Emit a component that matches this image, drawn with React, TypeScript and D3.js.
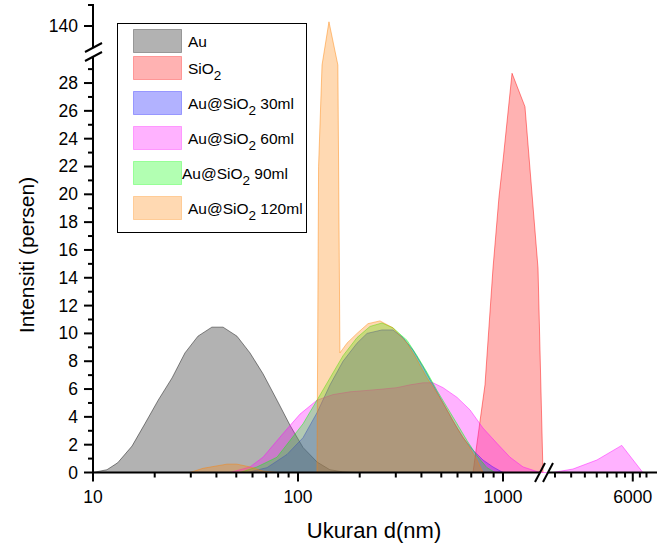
import React from "react";
import * as d3 from "d3";

// Particle size distributions (size in nm, intensity in %)
const au: [number, number][] = [
  [10, 0], [11.7, 0.2], [13.2, 0.7], [15.5, 1.9], [17.9, 3.5], [20.8, 5.2],
  [24.3, 6.8], [28.1, 8.6], [32.5, 9.8], [38, 10.45], [43.1, 10.45], [50.4, 9.8],
  [58.3, 8.6], [67.5, 7.1], [79, 5.2], [91.4, 3.4], [105.8, 1.8], [124, 0.75],
  [143, 0.2], [165, 0.05], [190, 0],
];

const sio2: [number, number][] = [
  [714, 0], [817, 6.3], [894, 14.7], [956, 19.8], [1000, 22.4], [1107, 28.7],
  [1280, 26.3], [1482, 14.7], [1567, 0],
];

const ml30: [number, number][] = [
  [56.4, 0], [70.6, 0.35], [88.4, 1.3], [105.8, 2.5], [123.8, 4.3], [143.3, 6.3],
  [165.9, 8.0], [194.1, 9.3], [217.2, 10.0], [257, 10.25], [290.6, 10.25],
  [325.2, 9.7], [364, 8.8], [407.4, 7.6], [455.9, 6.3], [509.9, 5.0], [570.5, 3.7],
  [638.5, 2.5], [714, 1.6], [798.5, 0.9], [893.4, 0.4], [1000, 0],
];

const ml60: [number, number][] = [
  [46.6, 0], [58.3, 0.4], [67.5, 1.1], [84.5, 2.8], [102.3, 4.2], [123.8, 5.2],
  [148.3, 5.6], [179.5, 5.8], [217.2, 5.9], [260, 6.0], [303.9, 6.1], [351.8, 6.3],
  [407.4, 6.45], [455.9, 6.45], [509.9, 6.1], [597, 5.4], [690.6, 4.5], [798.5, 3.2],
  [934.6, 2.1], [1082, 1.1], [1253, 0.4], [1515, 0], [2440, 0], [3060, 0.25],
  [4010, 0.9], [5300, 1.95], [6720, 0],
];

const ml90: [number, number][] = [
  [52.1, 0], [63.1, 0.4], [79, 1.1], [91.4, 2.3], [105.8, 3.5], [123.8, 5.2],
  [143.3, 6.8], [165.9, 8.4], [194.1, 9.7], [224.5, 10.5], [257, 10.75],
  [290.6, 10.4], [340.4, 9.5], [380.6, 8.4], [425.9, 7.2], [476.6, 5.9], [533, 4.7],
  [597, 3.5], [667.5, 2.3], [746.6, 1.2], [835.2, 0.35], [913.8, 0],
];

const ml120: [number, number][] = [
  [29.7, 0], [34.4, 0.3], [45, 0.6], [50.4, 0.6], [58.3, 0.4], [67.5, 0.1], [79, 0],
  [123.8, 0], [126, 22], [131, 29.3], [141.6, 141], [156.5, 29.3],
  [160.2, 8.6], [173.4, 9.3], [194.1, 10.0], [219.5, 10.7], [251.2, 10.9],
  [290.6, 10.4], [340.4, 9.3], [380.6, 8.1], [425.9, 6.8], [476.6, 5.7], [533, 4.5],
  [597, 3.2], [667.5, 2.1], [746.6, 0.9], [798.5, 0],
];

const seriesData = [au, sio2, ml30, ml60, ml90, ml120];
const seriesColors = ["#000000", "#ff0000", "#0000ff", "#ff00ff", "#00ff00", "#ff8000"];
const legendMain = ["Au", "SiO", "Au@SiO", "Au@SiO", "Au@SiO", "Au@SiO"];
const legendSub = ["", "2", "2", "2", "2", "2"];
const legendTail = ["", "", " 30ml", " 60ml", " 90ml", " 120ml"];

const xMajorLeft = [10, 100, 1000];
const xMajorRight = [6000];
const xMinorRight = [2500, 3000, 3500, 4000, 4500, 5000, 5500, 6500, 7000];
const yMajorLow = [0, 2, 4, 6, 8, 10, 12, 14, 16, 18, 20, 22, 24, 26, 28];
const yMajorHigh = [140];
const yMinorHigh = [145];

const FONT = "'Liberation Sans', Arial, Helvetica, sans-serif";

// Broken log x axis: two segments with a small gap
const X_LEFT_MAX = 1603;
const X_RIGHT_MIN = 2364;
const xLeft = d3.scaleLog().domain([10, X_LEFT_MAX]).range([93, 545]);
const xRight = d3.scaleLog().domain([X_RIGHT_MIN, 7880]).range([550, 657]);
function xMap(v: number): number {
  if (v <= X_LEFT_MAX) return xLeft(v);
  if (v >= X_RIGHT_MIN) return xRight(v);
  const t = (Math.log(v) - Math.log(X_LEFT_MAX)) / (Math.log(X_RIGHT_MIN) - Math.log(X_LEFT_MAX));
  return 545 + t * 5;
}

// Broken linear y axis
const Y_LOW_MAX = 29.8;
const Y_HIGH_MIN = 135;
const yLow = d3.scaleLinear().domain([0, Y_LOW_MAX]).range([472.5, 58]);
const yHigh = d3.scaleLinear().domain([Y_HIGH_MIN, 145]).range([47, 5]);
function yMap(v: number): number {
  if (v <= Y_LOW_MAX) return yLow(v);
  if (v >= Y_HIGH_MIN) return yHigh(v);
  const t = (v - Y_LOW_MAX) / (Y_HIGH_MIN - Y_LOW_MAX);
  return 58 + t * (47 - 58);
}

const area = d3
  .area<[number, number]>()
  .x((d) => xMap(d[0]))
  .y0(yLow(0))
  .y1((d) => yMap(d[1]));
const line = d3
  .line<[number, number]>()
  .x((d) => xMap(d[0]))
  .y((d) => yMap(d[1]));

function leftMinorTicks(): number[] {
  const out: number[] = [];
  for (const dec of [10, 100, 1000]) {
    for (let m = 2; m <= 9; m++) {
      const v = dec * m;
      if (v < X_LEFT_MAX) out.push(v);
    }
  }
  return out;
}

export default function App() {
  const axisY = yLow(0);
  const axisX = 93;
  const sw = 2;
  const lowMinor = d3.range(1, 30, 2);

  return (
    <svg width={657} height={547} style={{ display: "block", position: "absolute", left: 0, top: 0 }}
      fontFamily={FONT}>
      <rect x={0} y={0} width={657} height={547} fill="#fff" />

      {/* distributions */}
      {seriesData.map((d, i) => (
        <g key={i}>
          <path d={area(d) ?? ""} fill={seriesColors[i]} fillOpacity={0.3} stroke="none" />
          <path d={line(d) ?? ""} fill="none" stroke={seriesColors[i]} strokeOpacity={0.45} strokeWidth={1} />
        </g>
      ))}

      {/* x axis */}
      <g stroke="#000" strokeWidth={sw}>
        <line x1={axisX - 1} x2={540} y1={axisY} y2={axisY} />
        <line x1={548} x2={657} y1={axisY} y2={axisY} />
        {xMajorLeft.map((v) => (
          <line key={"xm" + v} x1={xLeft(v)} x2={xLeft(v)} y1={axisY} y2={axisY + 9} />
        ))}
        {leftMinorTicks().map((v) => (
          <line key={"xn" + v} x1={xLeft(v)} x2={xLeft(v)} y1={axisY} y2={axisY + 5} />
        ))}
        {xMajorRight.map((v) => (
          <line key={"xrm" + v} x1={xRight(v)} x2={xRight(v)} y1={axisY} y2={axisY + 9} />
        ))}
        {xMinorRight.map((v) => (
          <line key={"xrn" + v} x1={xRight(v)} x2={xRight(v)} y1={axisY} y2={axisY + 5} />
        ))}
        {/* break marks */}
        <line x1={535} y1={482} x2={545} y2={463} />
        <line x1={543} y1={482} x2={553} y2={463} />
      </g>
      <g fontSize={17.5} textAnchor="middle" fill="#000">
        {xMajorLeft.map((v) => (
          <text key={"xl" + v} x={xLeft(v)} y={503}>{v}</text>
        ))}
        {xMajorRight.map((v) => (
          <text key={"xrl" + v} x={xRight(v)} y={503}>{v}</text>
        ))}
      </g>
      <text x={374} y={538} fontSize={22} textAnchor="middle">Ukuran d(nm)</text>

      {/* y axis */}
      <g stroke="#000" strokeWidth={sw}>
        <line x1={axisX} x2={axisX} y1={axisY + 1} y2={56.5} />
        <line x1={axisX} x2={axisX} y1={47.5} y2={4} />
        {yMajorLow.map((v) => (
          <line key={"ym" + v} x1={axisX - 9} x2={axisX} y1={yLow(v)} y2={yLow(v)} />
        ))}
        {lowMinor.map((v) => (
          <line key={"yn" + v} x1={axisX - 5} x2={axisX} y1={yLow(v)} y2={yLow(v)} />
        ))}
        {yMajorHigh.map((v) => (
          <line key={"yhm" + v} x1={axisX - 9} x2={axisX} y1={yHigh(v)} y2={yHigh(v)} />
        ))}
        {yMinorHigh.map((v) => (
          <line key={"yhn" + v} x1={axisX - 5} x2={axisX} y1={yHigh(v)} y2={yHigh(v)} />
        ))}
        {/* break marks */}
        <line x1={85} y1={52} x2={102} y2={43} />
        <line x1={85} y1={61} x2={102} y2={52} />
      </g>
      <g fontSize={17.5} textAnchor="end" fill="#000">
        {yMajorLow.map((v) => (
          <text key={"yl" + v} x={78} y={yLow(v) + 6}>{v}</text>
        ))}
        {yMajorHigh.map((v) => (
          <text key={"yhl" + v} x={78} y={yHigh(v) + 6}>{v}</text>
        ))}
      </g>
      <text transform="translate(34,255) rotate(-90)" fontSize={21} textAnchor="middle">
        Intensiti (persen)
      </text>

      {/* legend */}
      <g>
        <rect x={117.5} y={23.5} width={189} height={209} fill="#fff" stroke="#000" strokeWidth={1} />
        {legendMain.map((m, i) => {
          const tops = [29.5, 56.5, 91.5, 126.5, 161.5, 196.5];
          const top = tops[i];
          const tx = i === 4 ? 182 : 188;
          return (
            <g key={"lg" + i}>
              <rect x={133.5} y={top} width={48} height={23} fill={seriesColors[i]} fillOpacity={0.3}
                stroke={seriesColors[i]} strokeOpacity={0.3} strokeWidth={1} />
              <text x={tx} y={top + 17} fontSize={15.5}>
                {m}
                {legendSub[i] && (
                  <tspan dy={6} fontSize={13.5}>{legendSub[i]}</tspan>
                )}
                {legendTail[i] && (
                  <tspan dy={-6}>{legendTail[i]}</tspan>
                )}
              </text>
            </g>
          );
        })}
      </g>
    </svg>
  );
}
